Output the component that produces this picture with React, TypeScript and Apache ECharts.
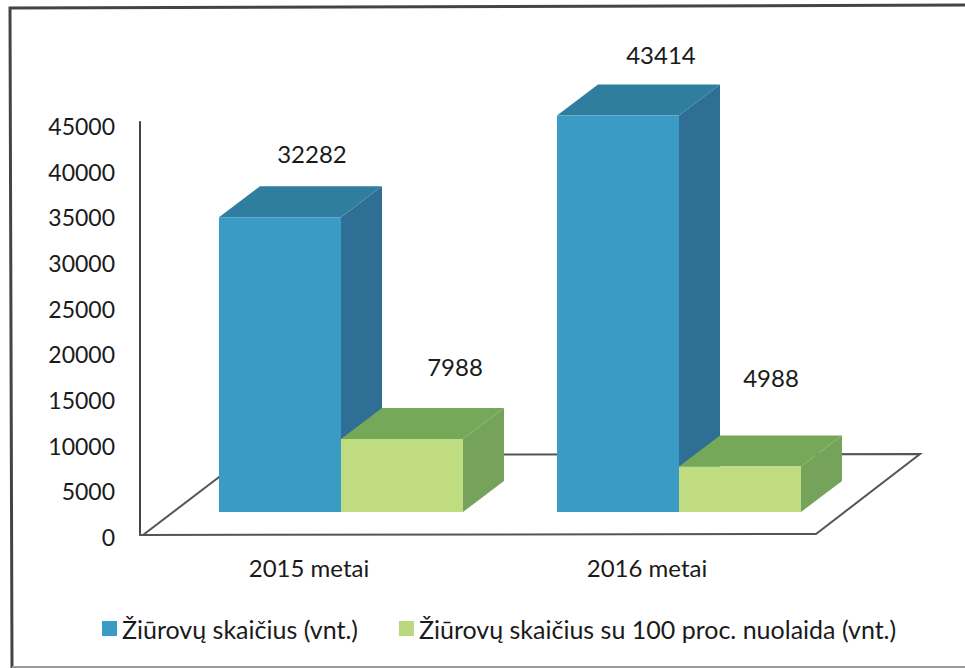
import React, { useEffect, useRef } from "react";
import * as echarts from "echarts";

const categories = ["2015 metai", "2016 metai"];
const viewers = [32282, 43414];
const freeViewers = [7988, 4988];
const seriesNames = ["Žiūrovų skaičius (vnt.)", "Žiūrovų skaičius su 100 proc. nuolaida (vnt.)"];
const FONT = "Lato, Carlito, sans-serif";
const FRONT_DROP = 21;
const DEPTH_X = 41;
const DEPTH_Y = 31;
const BAR_RATIO = 122 / 338;

function barRenderer(slot: number, front: string, top: string, side: string, labelDx: number[], labelDy: number[]) {
  return (params: any, api: any) => {
    const idx = api.value(0);
    const val = api.value(1);
    const [cx, y0] = api.coord([idx, 0]);
    const [, yv] = api.coord([idx, val]);
    const band = api.size([1, 0])[0];
    const w = band * BAR_RATIO;
    const x0 = cx - band * (90 / 338) + slot * w;
    const x1 = x0 + w;
    const bottom = y0 - FRONT_DROP;
    const yTop = yv - FRONT_DROP;
    return {
      type: "group",
      children: [
        {
          type: "polygon",
          shape: { points: [[x1, yTop], [x1 + DEPTH_X, yTop - DEPTH_Y], [x1 + DEPTH_X, bottom - DEPTH_Y], [x1, bottom]] },
          style: { fill: side },
        },
        {
          type: "polygon",
          shape: { points: [[x0, yTop], [x0 + DEPTH_X, yTop - DEPTH_Y], [x1 + DEPTH_X, yTop - DEPTH_Y], [x1, yTop]] },
          style: { fill: top },
        },
        { type: "rect", shape: { x: x0, y: yTop, width: w, height: bottom - yTop }, style: { fill: front } },
        {
          type: "text",
          style: {
            x: cx + labelDx[idx],
            y: yv + labelDy[idx],
            text: String(val),
            fill: "#1a1a1a",
            font: `24px ${FONT}`,
            align: "center",
            verticalAlign: "middle",
          },
        },
      ],
    };
  };
}

function floorRenderer(params: any, api: any) {
  const [x0, y0] = api.coord([0, 0]);
  const band = api.size([1, 0])[0];
  const left = x0 - band / 2;
  const right = x0 + band * 1.5;
  return {
    type: "polyline",
    shape: {
      points: [
        [left, y0],
        [left, y0 + 2],
        [left + 3, y0 + 2],
        [left + 108, y0 - 78],
        [right + 104, y0 - 79],
        [right, y0 + 1],
        [left + 3, y0 + 2],
      ],
    },
    style: { fill: "none", stroke: "#555", lineWidth: 2 },
  };
}

export default function App() {
  const ref = useRef<HTMLDivElement>(null);
  useEffect(() => {
    document.body.style.margin = "0";
    const chart = echarts.init(ref.current!, null, { renderer: "svg" });
    chart.setOption({
      animation: false,
      backgroundColor: "#fff",
      grid: { left: 140, right: 149, top: 122, bottom: 135 },
      legend: {
        data: seriesNames,
        left: 97,
        top: 611,
        itemWidth: 15,
        itemHeight: 15,
        itemGap: 41,
        icon: "rect",
        selectedMode: false,
        textStyle: { fontFamily: FONT, fontSize: 25, color: "#1a1a1a" },
      },
      xAxis: {
        type: "category",
        data: categories,
        axisLine: { show: false },
        axisTick: { show: false },
        axisLabel: { fontFamily: FONT, fontSize: 24, color: "#1a1a1a", margin: 22 },
      },
      yAxis: {
        type: "value",
        min: 0,
        max: 45000,
        interval: 5000,
        axisLine: { show: true, lineStyle: { color: "#444", width: 2 } },
        axisTick: { show: false },
        splitLine: { show: false },
        axisLabel: {
          fontFamily: FONT,
          fontSize: 23,
          color: "#1a1a1a",
          margin: 25,
          verticalAlign: "top",
          lineHeight: 8,
          formatter: (v: number) => String(v),
        },
      },
      graphic: [
        {
          type: "polyline",
          shape: { points: [[965, 5], [10, 8], [12, 668]] },
          style: { fill: "none", stroke: "#444", lineWidth: 3 },
          silent: true,
        },
        {
          type: "line",
          shape: { x1: 12, y1: 667, x2: 965, y2: 667 },
          style: { stroke: "#999", lineWidth: 2 },
          silent: true,
        },
      ],
      series: [
        {
          type: "custom",
          name: "floor",
          silent: true,
          data: [[0, 0]],
          renderItem: floorRenderer,
          encode: { x: 0, y: 1 },
          z: 1,
        },
        {
          type: "custom",
          name: seriesNames[0],
          data: viewers.map((v, i) => [i, v]),
          itemStyle: { color: "#3a9bc5" },
          encode: { x: 0, y: 1 },
          z: 2,
          renderItem: barRenderer(0, "#3a9bc5", "#2f7d9f", "#2f6f95", [3, 14], [-85, -82]),
        },
        {
          type: "custom",
          name: seriesNames[1],
          data: freeViewers.map((v, i) => [i, v]),
          itemStyle: { color: "#bcd87f" },
          encode: { x: 0, y: 1 },
          z: 3,
          renderItem: barRenderer(1, "#bfdc80", "#76a85a", "#76a35c", [146, 124], [-94, -110]),
        },
      ],
    });
    return () => chart.dispose();
  }, []);
  return <div ref={ref} style={{ width: 965, height: 668 }} />;
}
